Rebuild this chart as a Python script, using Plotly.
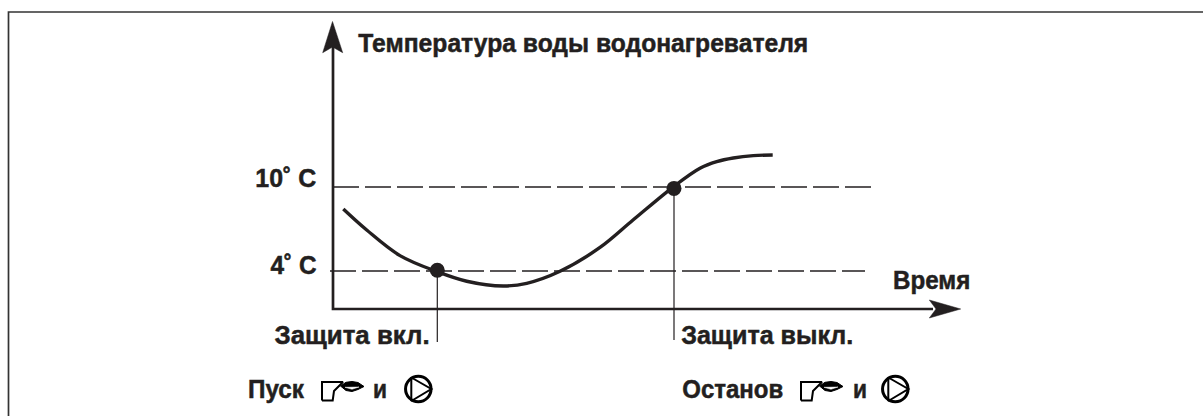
import json
import plotly.graph_objects as go

curve_t = [1.03, 3.37, 6.7, 10.43, 13.37, 17.03, 19.37, 22.7, 26.7, 30.0, 34.1, 36.7, 38.37, 40.03, 42.03, 43.97]
curve_temp = [8.43, 6.93, 5.1, 3.95, 3.27, 2.93, 3.12, 3.98, 5.68, 7.64, 10.05, 11.34, 11.81, 12.07, 12.24, 12.29]
start_t = 10.43
start_temp = 4.05
stop_t = 34.1
stop_temp = 9.9
thresholds = [10, 4]
threshold_starts = [0.0, -0.3]
threshold_ends = [53.9, 53.2]
threshold_labels = ["10˚ C", "4˚ C"]

W, H = 1203, 416
FONT = "Liberation Sans"
INK = "#231f20"
PX_X = 10.0   # px per time unit
PX_Y = 14.0   # px per degree

x_range = [-333 / PX_X, (W - 333) / PX_X]
y_range = [10 - (H - 187) / PX_Y, 10 + 187 / PX_Y]


def X(px):
    return (px - 333) / PX_X


def Y(py):
    return 10 - (py - 187) / PX_Y


fig = go.Figure()


def line(xs, ys, color=INK, width=1.0, **kw):
    fig.add_trace(go.Scatter(x=xs, y=ys, mode="lines", hoverinfo="skip",
                             line=dict(color=color, width=width, **kw)))


def solid(xs, ys, fill, color=INK, width=0.5):
    fig.add_trace(go.Scatter(x=xs, y=ys, mode="lines", fill="toself", fillcolor=fill,
                             hoverinfo="skip", line=dict(color=color, width=width)))


# frame (left and top only)
line([X(8.5), X(8.5), X(W + 5)], [Y(H + 5), Y(12), Y(12)], color="#333333", width=1.7)

# thresholds
for temp, start, end in zip(thresholds, threshold_starts, threshold_ends):
    line([start, end], [temp, temp], width=1.3, dash="26px,6px")

# drop lines
line([start_t, start_t], [start_temp, Y(342)], width=1.2)
line([stop_t, stop_t], [stop_temp, Y(340)], width=1.2)

# axes lines
line([0, 0, 60], [Y(40), Y(309), Y(309)], width=2.7)
# arrow heads
solid([X(322.7), X(332.5), X(342.7), X(332.5), X(322.7)], [Y(52.7), Y(21.5), Y(52.7), Y(47), Y(52.7)], INK)
solid([X(929.3), X(960.7), X(929.3), X(936), X(929.3)], [Y(300), Y(309), Y(318), Y(309), Y(300)], INK)

# curve
line(curve_t, curve_temp, width=3.4, shape="spline", smoothing=1.0)
# points
fig.add_trace(go.Scatter(x=[start_t, stop_t], y=[start_temp, stop_temp], mode="markers",
                         marker=dict(color=INK, size=15), hoverinfo="skip"))

# icons
for dx, pump_px in [(0, 418.3), (479, 895.3)]:
    burner_x = [322, 322, 343, 336.5, 334, 332.7, 322]
    burner_y = [400.5, 382, 382, 389, 391, 400.5, 400.5]
    line([X(v + dx) for v in burner_x], [Y(v) for v in burner_y], color="black", width=2)
    eye_x = [340.5, 346, 352, 358, 364, 358, 352, 346, 340.5]
    eye_y = [386, 382.3, 381.5, 382.5, 386.5, 389.5, 391.5, 390.5, 386]
    solid([X(v + dx) for v in eye_x], [Y(v) for v in eye_y], "black", color="black", width=1)
    sliver_x = [345, 352, 359, 352, 345]
    sliver_y = [387.3, 387, 387, 389.3, 387.3]
    solid([X(v + dx) for v in sliver_x], [Y(v) for v in sliver_y], "white", color="white", width=0.5)
    fig.add_trace(go.Scatter(x=[X(pump_px)], y=[Y(389)], mode="markers", hoverinfo="skip",
                             marker=dict(size=25.5, color="rgba(0,0,0,0)",
                                         line=dict(color="black", width=3))))
    line([X(pump_px - 7), X(pump_px + 13), X(pump_px - 7), X(pump_px - 7)],
         [Y(377.5), Y(389), Y(401), Y(377.5)], color="black", width=2)

# label, left px, right px, middle py
labels = [
    ("Температура воды водонагревателя", 358, 808, 43),
    (threshold_labels[0], 255.7, 316.7, 178),
    (threshold_labels[1], 270.7, 316.7, 265),
    ("Время", 892.7, 970, 280),
    ("Защита вкл.", 274, 429, 335),
    ("Защита выкл.", 681, 853, 335),
    ("Пуск", 248, 304, 389),
    ("и", 373, 387, 389),
    ("Останов", 682, 783, 389),
    ("и", 853, 867, 389),
]
for t, x0, x1, py in labels:
    fig.add_annotation(x=X((x0 + x1) / 2), y=Y(py), text=t, showarrow=False, xanchor="center", yanchor="middle",
                       font=dict(family=FONT, size=26, color=INK, weight="bold"))

fig.update_layout(
    width=W, height=H, margin=dict(l=0, r=0, t=0, b=0), showlegend=False,
    paper_bgcolor="white", plot_bgcolor="white",
    xaxis=dict(range=x_range, visible=False, fixedrange=True),
    yaxis=dict(range=y_range, visible=False, fixedrange=True),
)

widths = {t: x1 - x0 for t, x0, x1, _ in labels}
post = """
document.body.style.margin='0';
var widths = %s;
document.querySelectorAll('.annotation-text').forEach(function(el){
  var w = widths[el.textContent];
  if (w) {
    el.setAttribute('textLength', w);
    el.setAttribute('lengthAdjust', 'spacingAndGlyphs');
    el.style.stroke = '#231f20';
    el.style.strokeWidth = '0.5px';
  }
});
""" % json.dumps(widths, ensure_ascii=False)
fig.write_html("out.html", config={"displayModeBar": False}, post_script=post)
